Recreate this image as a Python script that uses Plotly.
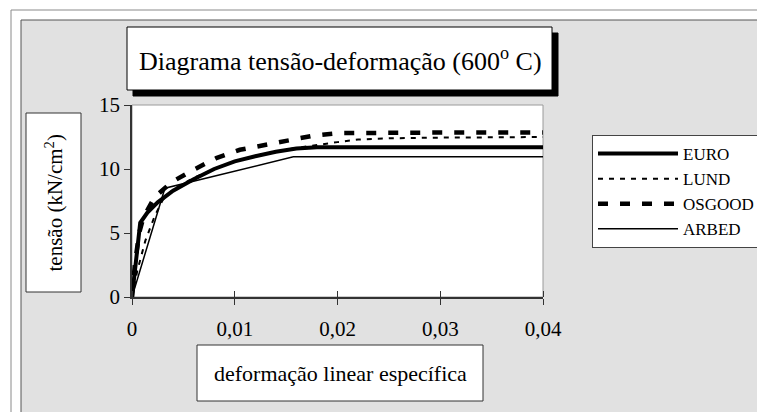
import plotly.graph_objects as go

# data (strain, stress kN/cm2)
euro_x = [0, 0.0004, 0.0008, 0.0015, 0.0025, 0.004, 0.006, 0.008, 0.010, 0.012, 0.014, 0.016, 0.018, 0.020, 0.040]
euro_y = [0, 3.2, 5.8, 6.6, 7.4, 8.3, 9.2, 10.0, 10.6, 11.0, 11.35, 11.6, 11.7, 11.7, 11.7]

lund_x = [0, 0.0005, 0.0013, 0.0022, 0.003, 0.004, 0.006, 0.008, 0.010, 0.012, 0.014, 0.016, 0.018, 0.020, 0.022, 0.025, 0.030, 0.040]
lund_y = [0, 2.0, 4.4, 6.3, 7.6, 8.4, 9.3, 10.0, 10.6, 11.0, 11.35, 11.65, 11.9, 12.1, 12.3, 12.4, 12.45, 12.5]

osgood_x = [0, 0.0003, 0.0007, 0.0011, 0.0022, 0.0039, 0.0059, 0.0082, 0.0105, 0.0131, 0.0154, 0.0176, 0.020, 0.025, 0.030, 0.040]
osgood_y = [0, 2.7, 5.0, 6.2, 7.8, 9.0, 9.9, 10.85, 11.5, 11.9, 12.3, 12.6, 12.8, 12.85, 12.85, 12.85]

arbed_x = [0, 0.0032, 0.0157, 0.040]
arbed_y = [0, 8.5, 10.95, 10.95]

x_ticks = [0, 0.01, 0.02, 0.03, 0.04]
x_ticklabels = ["0", "0,01", "0,02", "0,03", "0,04"]
y_ticks = [0, 5, 10, 15]
y_ticklabels = ["0", "5", "10", "15"]

FONT = "Times New Roman, Liberation Serif, serif"

# page body has an 8px margin, so figure pixel = screen pixel - 8
OFF = 8
# plot area in screen pixels
L, R, T, B = 132, 543, 105, 297
W, H = R - L, B - T

def px(x):
    return (x - L) / W

def py(y):
    return (B - y) / H

fig = go.Figure()
fig.add_scatter(x=euro_x, y=euro_y, mode="lines", name="EURO", legendgroup="a",
                line=dict(color="black", width=4))
fig.add_scatter(x=lund_x, y=lund_y, mode="lines", name="LUND", legendgroup="b",
                line=dict(color="black", width=2, dash="5px,6px"))
fig.add_scatter(x=osgood_x, y=osgood_y, mode="lines", name="OSGOOD", legendgroup="c",
                line=dict(color="black", width=4.5, dash="10px,12px"))
fig.add_scatter(x=arbed_x, y=arbed_y, mode="lines", name="ARBED", legendgroup="d",
                line=dict(color="black", width=1.5))

def rect(x0, y0, x1, y1, fill="rgba(0,0,0,0)", line="black", lw=1):
    return dict(type="rect", xref="paper", yref="paper", layer="below",
                x0=px(x0), x1=px(x1), y0=py(y1), y1=py(y0),
                fillcolor=fill, line=dict(color=line, width=lw))

shapes = [
    rect(11, 10, 790, 440, line="#8a8a8a"),
    rect(21, 20, 790, 440, fill="#e1e1e1", line="#555555"),
    rect(L, T, R, B, fill="white", line="#9a9a9a"),
    rect(133, 33, 558, 96, fill="black", line="black"),
    rect(127, 27, 552, 90, fill="white", line="black"),
    rect(26, 113, 81, 292, fill="white", line="#333333"),
    rect(197, 345, 483, 401, fill="white", line="#333333"),
]

annotations = [
    dict(text="Diagrama tensão-deformação (600<sup>o</sup> C)", x=px(340), y=py(59),
         font=dict(size=26)),
    dict(text="tensão (kN/cm<sup>2</sup>)", x=px(53.5), y=py(203), textangle=-90,
         font=dict(size=21)),
    dict(text="deformação linear específica", x=px(340), y=py(373),
         font=dict(size=22)),
]
for a in annotations:
    a.update(xref="paper", yref="paper", showarrow=False, xanchor="center", yanchor="middle")

fig.update_layout(
    width=765, height=412,
    margin=dict(l=L - OFF, r=765 - (R - OFF), t=T - OFF, b=412 - (B - OFF)),
    paper_bgcolor="white", plot_bgcolor="white",
    font=dict(family=FONT, color="black", size=21),
    shapes=shapes, annotations=annotations,
    showlegend=True,
    legend=dict(x=px(592), y=py(135), xanchor="left", yanchor="top",
                bgcolor="white", bordercolor="#444444", borderwidth=1,
                font=dict(size=17), itemwidth=80, tracegroupgap=6,
                traceorder="normal"),
)
fig.update_xaxes(range=[0, 0.04], tickvals=x_ticks, ticktext=x_ticklabels,
                 showgrid=False, zeroline=False, showline=True, linecolor="#333333",
                 linewidth=1.5, ticks="outside", ticklen=6, tickcolor="#333333",
                 ticklabelstandoff=6,
                 minor=dict(tickmode="array", tickvals=x_ticks, ticks="inside",
                            ticklen=6, tickcolor="#333333"))
fig.update_yaxes(range=[0, 15], tickvals=y_ticks, ticktext=y_ticklabels,
                 showgrid=False, zeroline=False, showline=True, linecolor="#333333",
                 linewidth=1.5, ticks="outside", ticklen=6, tickcolor="#333333")

fig.write_html("out.html")
